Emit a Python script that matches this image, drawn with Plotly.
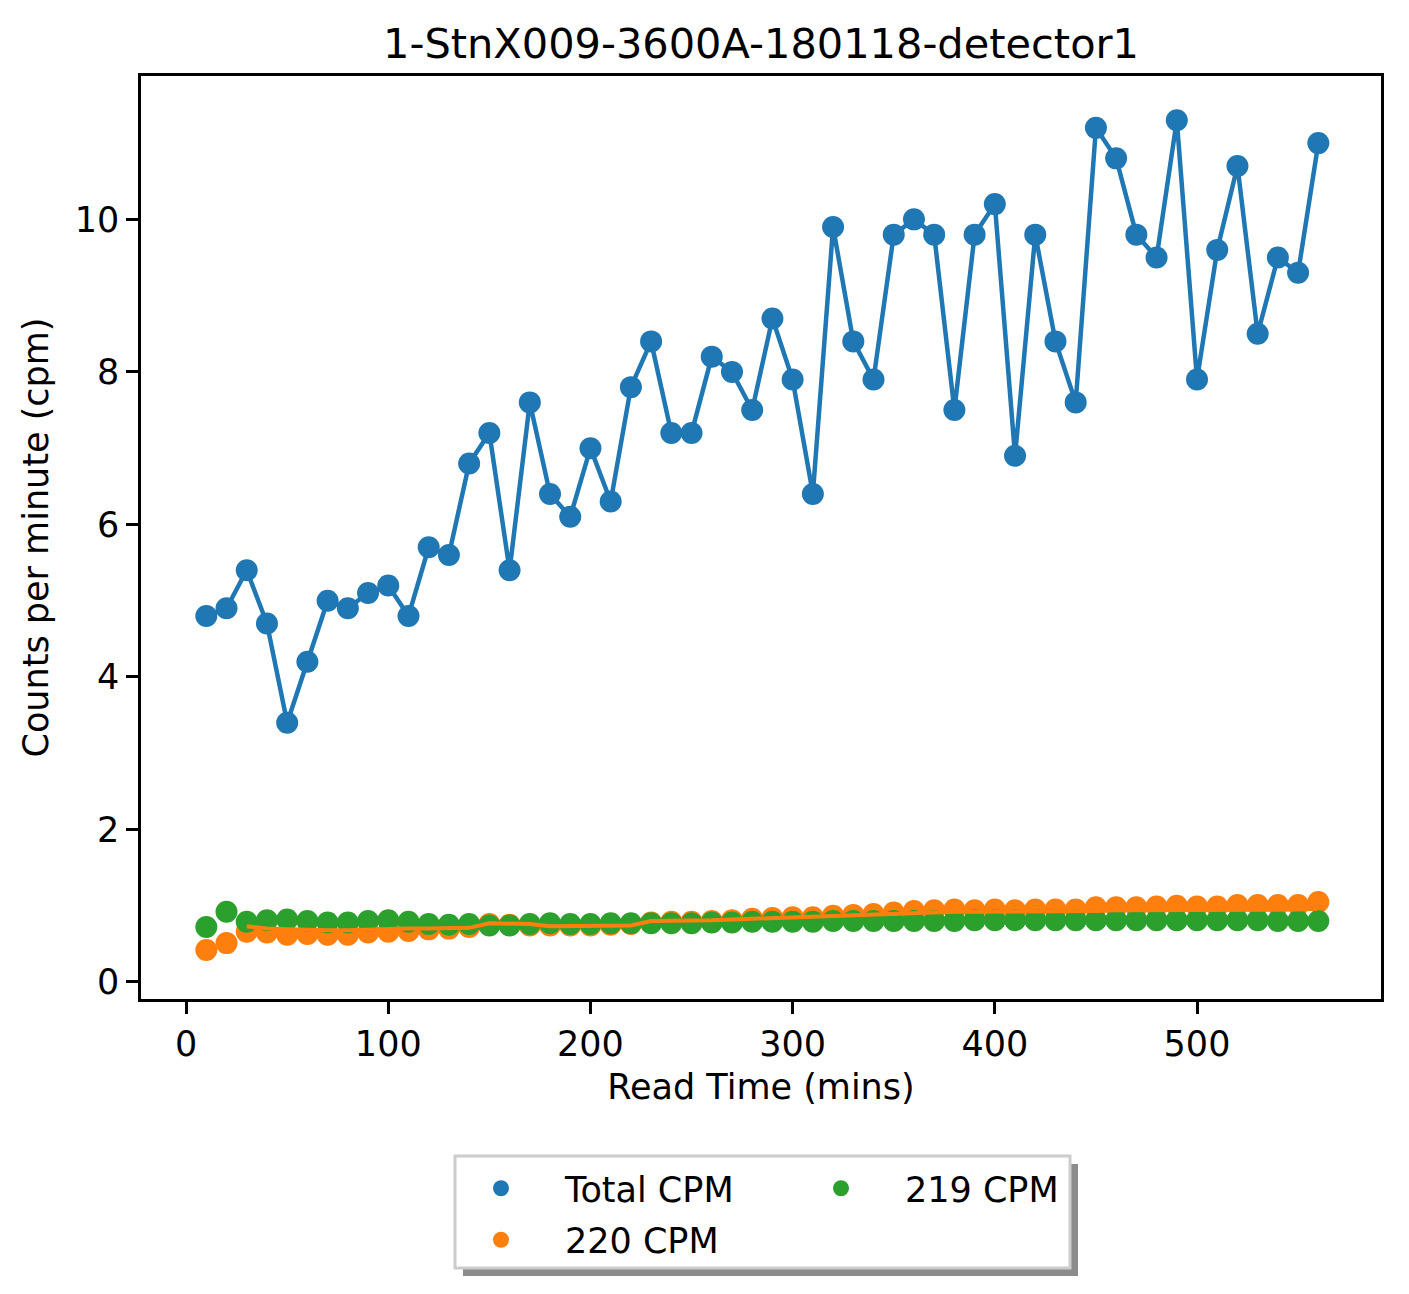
import plotly.graph_objects as go

# read times (mins)
read_time = [10, 20, 30, 40, 50, 60, 70, 80, 90, 100, 110, 120, 130, 140, 150, 160, 170, 180, 190, 200,
             210, 220, 230, 240, 250, 260, 270, 280, 290, 300, 310, 320, 330, 340, 350, 360, 370, 380, 390, 400,
             410, 420, 430, 440, 450, 460, 470, 480, 490, 500, 510, 520, 530, 540, 550, 560]

total_cpm = [4.8, 4.9, 5.4, 4.7, 3.4, 4.2, 5.0, 4.9, 5.1, 5.2, 4.8, 5.7, 5.6, 6.8, 7.2, 5.4, 7.6, 6.4, 6.1, 7.0,
             6.3, 7.8, 8.4, 7.2, 7.2, 8.2, 8.0, 7.5, 8.7, 7.9, 6.4, 9.9, 8.4, 7.9, 9.8, 10.0, 9.8, 7.5, 9.8, 10.2,
             6.9, 9.8, 8.4, 7.6, 11.2, 10.8, 9.8, 9.5, 11.3, 7.9, 9.6, 10.7, 8.5, 9.5, 9.3, 11.0]

cpm_220 = [0.42, 0.51, 0.66, 0.65, 0.62, 0.63, 0.62, 0.62, 0.65, 0.66, 0.67, 0.69, 0.70, 0.72, 0.76, 0.75, 0.74, 0.74, 0.74, 0.74,
           0.75, 0.76, 0.78, 0.79, 0.79, 0.80, 0.81, 0.83, 0.84, 0.85, 0.85, 0.87, 0.88, 0.89, 0.91, 0.93, 0.94, 0.95, 0.94, 0.95,
           0.94, 0.95, 0.95, 0.95, 0.98, 0.98, 0.98, 0.99, 1.00, 0.99, 0.99, 1.01, 1.01, 1.01, 1.01, 1.05]

cpm_219 = [0.72, 0.92, 0.79, 0.81, 0.82, 0.80, 0.78, 0.78, 0.80, 0.81, 0.79, 0.76, 0.75, 0.76, 0.74, 0.74, 0.76, 0.77, 0.76, 0.76,
           0.77, 0.77, 0.77, 0.77, 0.77, 0.78, 0.78, 0.79, 0.79, 0.79, 0.79, 0.80, 0.80, 0.80, 0.80, 0.80, 0.80, 0.80, 0.81, 0.81,
           0.81, 0.81, 0.81, 0.81, 0.81, 0.81, 0.81, 0.81, 0.81, 0.81, 0.81, 0.81, 0.81, 0.80, 0.80, 0.80]

# orange trend line, starts at 30 mins
line_time = read_time[2:]
line_220 = [0.73, 0.70, 0.69, 0.68, 0.68, 0.68, 0.69, 0.69, 0.70, 0.70, 0.70, 0.71, 0.77, 0.77, 0.76, 0.73, 0.73, 0.73,
            0.73, 0.74, 0.80, 0.80, 0.81, 0.81, 0.82, 0.83, 0.83, 0.84, 0.85, 0.86, 0.87, 0.88, 0.89, 0.90, 0.91, 0.92,
            0.92, 0.92, 0.92, 0.93, 0.93, 0.93, 0.93, 0.94, 0.94, 0.94, 0.95, 0.95, 0.95, 0.95, 0.95, 0.95, 0.95, 0.96]

BLUE, ORANGE, GREEN = "#1f77b4", "#ff7f0e", "#2ca02c"
FONT = "DejaVu Sans"

# page is 1409 x 1294, the plot div sits 8px in from the top-left corner
OFF = 8
W, H = 1409 - OFF, 1294 - OFF
# plot area in page pixels
L, R, T, B = 141, 1381, 76, 999


def px_x(p):
    return (p - L) / (R - L)


def px_y(p):
    return (B - p) / (B - T)


fig = go.Figure()

fig.add_trace(go.Scatter(x=read_time, y=total_cpm, mode="lines",
                         line=dict(color=BLUE, width=4.5), showlegend=False))
fig.add_trace(go.Scatter(x=read_time, y=total_cpm, mode="markers", name="Total CPM",
                         marker=dict(color=BLUE, size=22), legend="legend", legendgroup="total"))
fig.add_trace(go.Scatter(x=read_time, y=cpm_220, mode="markers", name="220 CPM",
                         marker=dict(color=ORANGE, size=22), legend="legend", legendgroup="c220"))
fig.add_trace(go.Scatter(x=read_time, y=cpm_219, mode="markers", name="219 CPM",
                         marker=dict(color=GREEN, size=22), legend="legend2", legendgroup="c219"))
fig.add_trace(go.Scatter(x=line_time, y=line_220, mode="lines",
                         line=dict(color=ORANGE, width=4), showlegend=False))

axis_common = dict(showline=True, linecolor="black", linewidth=2.5, mirror=True,
                   ticks="outside", ticklen=12, tickwidth=2.5, tickcolor="black",
                   showgrid=False, zeroline=False,
                   tickfont=dict(family=FONT, size=35, color="black"))

fig.update_xaxes(range=[-22.3, 591], tickvals=[0, 100, 200, 300, 400, 500],
                 title=dict(text="Read Time (mins)", font=dict(family=FONT, size=35, color="black"), standoff=12),
                 **axis_common)
fig.update_yaxes(range=[-0.223, 11.88], tickvals=[0, 2, 4, 6, 8, 10],
                 title=dict(text="Counts per minute (cpm)", font=dict(family=FONT, size=35, color="black"), standoff=16),
                 **axis_common)

# legend box with drop shadow
fig.add_shape(type="rect", xref="paper", yref="paper",
              x0=px_x(463), x1=px_x(1078), y0=px_y(1164), y1=px_y(1276),
              fillcolor="#8c8c8c", line=dict(width=0), layer="above")
fig.add_shape(type="rect", xref="paper", yref="paper",
              x0=px_x(455), x1=px_x(1070), y0=px_y(1156), y1=px_y(1268),
              fillcolor="white", line=dict(color="#cccccc", width=3), layer="above")

legend_style = dict(orientation="v", xanchor="left", yanchor="top", y=px_y(1159),
                    bgcolor="rgba(0,0,0,0)", borderwidth=0, itemwidth=118, tracegroupgap=3,
                    font=dict(family=FONT, size=35, color="black"))

fig.update_layout(
    width=W, height=H,
    margin=dict(l=L - OFF, r=W - (R - OFF), t=T - OFF, b=H - (B - OFF)),
    paper_bgcolor="white", plot_bgcolor="white",
    title=dict(text="1-StnX009-3600A-180118-detector1", x=0.5, xref="paper",
               y=1 - (43 - OFF) / H, yanchor="middle",
               font=dict(family=FONT, size=41.5, color="black")),
    legend=dict(x=px_x(437), **legend_style),
    legend2=dict(x=px_x(777), **legend_style),
    font=dict(family=FONT, color="black"),
)

fig.write_html("out.html")
